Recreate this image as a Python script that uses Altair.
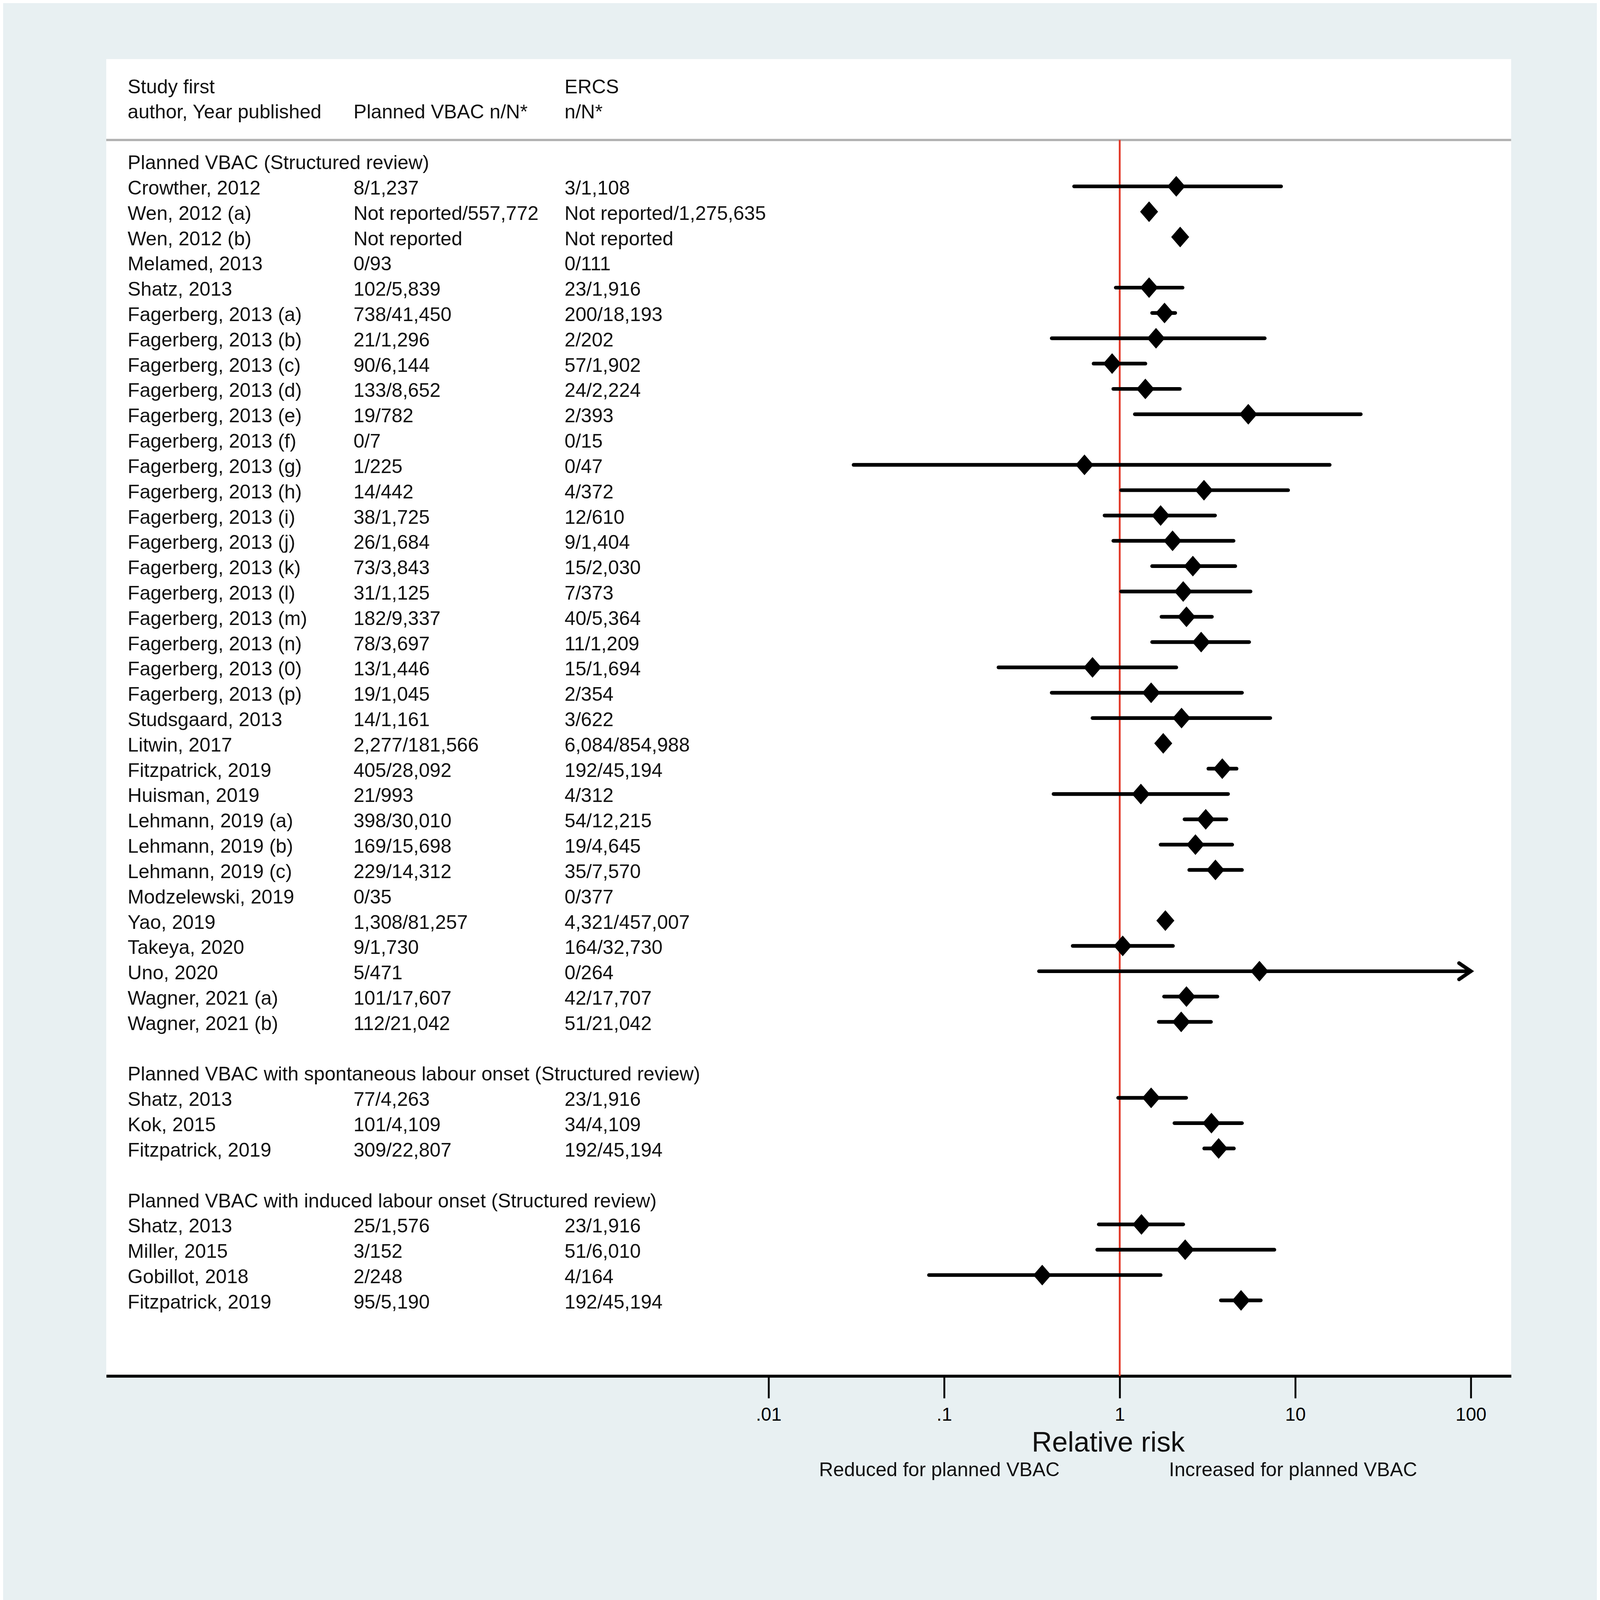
import altair as alt
import pandas as pd

# ---------------- data ----------------
HEADER_1 = ["Study first", "", "ERCS"]
HEADER_2 = ["author, Year published", "Planned VBAC n/N*", "n/N*"]

GROUP_TITLES = [
    "Planned VBAC (Structured review)",
    "Planned VBAC with spontaneous labour onset (Structured review)",
    "Planned VBAC with induced labour onset (Structured review)",
]

GROUP = [0] * 34 + [1] * 3 + [2] * 4

STUDY = [
    "Crowther, 2012", "Wen, 2012 (a)", "Wen, 2012 (b)", "Melamed, 2013", "Shatz, 2013",
    "Fagerberg, 2013 (a)", "Fagerberg, 2013 (b)", "Fagerberg, 2013 (c)", "Fagerberg, 2013 (d)",
    "Fagerberg, 2013 (e)", "Fagerberg, 2013 (f)", "Fagerberg, 2013 (g)", "Fagerberg, 2013 (h)",
    "Fagerberg, 2013 (i)", "Fagerberg, 2013 (j)", "Fagerberg, 2013 (k)", "Fagerberg, 2013 (l)",
    "Fagerberg, 2013 (m)", "Fagerberg, 2013 (n)", "Fagerberg, 2013 (0)", "Fagerberg, 2013 (p)",
    "Studsgaard,  2013", "Litwin, 2017", "Fitzpatrick, 2019", "Huisman, 2019",
    "Lehmann, 2019 (a)", "Lehmann, 2019 (b)", "Lehmann, 2019 (c)", "Modzelewski, 2019",
    "Yao, 2019", "Takeya, 2020", "Uno, 2020", "Wagner, 2021 (a)", "Wagner, 2021 (b)",
    "Shatz, 2013", "Kok, 2015", "Fitzpatrick, 2019",
    "Shatz, 2013", "Miller, 2015", "Gobillot, 2018", "Fitzpatrick, 2019",
]

VBAC = [
    "8/1,237", "Not reported/557,772", "Not reported", "0/93", "102/5,839",
    "738/41,450", "21/1,296", "90/6,144", "133/8,652",
    "19/782", "0/7", "1/225", "14/442",
    "38/1,725", "26/1,684", "73/3,843", "31/1,125",
    "182/9,337", "78/3,697", "13/1,446", "19/1,045",
    "14/1,161", "2,277/181,566", "405/28,092", "21/993",
    "398/30,010", "169/15,698", "229/14,312", "0/35",
    "1,308/81,257", "9/1,730", "5/471", "101/17,607", "112/21,042",
    "77/4,263", "101/4,109", "309/22,807",
    "25/1,576", "3/152", "2/248", "95/5,190",
]

ERCS = [
    "3/1,108", "Not reported/1,275,635", "Not reported", "0/111", "23/1,916",
    "200/18,193", "2/202", "57/1,902", "24/2,224",
    "2/393", "0/15", "0/47", "4/372",
    "12/610", "9/1,404", "15/2,030", "7/373",
    "40/5,364", "11/1,209", "15/1,694", "2/354",
    "3/622", "6,084/854,988", "192/45,194", "4/312",
    "54/12,215", "19/4,645", "35/7,570", "0/377",
    "4,321/457,007", "164/32,730", "0/264", "42/17,707", "51/21,042",
    "23/1,916", "34/4,109", "192/45,194",
    "23/1,916", "51/6,010", "4/164", "192/45,194",
]

RR = [
    2.10, 1.47, 2.21, None, 1.47,
    1.80, 1.61, 0.905, 1.40,
    5.40, None, 0.63, 3.02,
    1.71, 2.00, 2.61, 2.30,
    2.40, 2.91, 0.70, 1.51,
    2.25, 1.77, 3.84, 1.32,
    3.09, 2.70, 3.51, None,
    1.82, 1.04, 6.25, 2.40, 2.24,
    1.51, 3.33, 3.66,
    1.33, 2.36, 0.362, 4.91,
]

LO = [
    0.55, None, None, None, 0.95,
    1.53, 0.41, 0.71, 0.92,
    1.22, None, 0.0305, 1.02,
    0.82, 0.92, 1.53, 1.02,
    1.73, 1.53, 0.204, 0.41,
    0.70, None, 3.20, 0.42,
    2.34, 1.71, 2.49, None,
    None, 0.54, 0.347, 1.79, 1.67,
    0.98, 2.05, 3.03,
    0.76, 0.745, 0.082, 3.77,
]

HI = [
    8.3, None, None, None, 2.28,
    2.07, 6.7, 1.40, 2.20,
    23.6, None, 15.7, 9.1,
    3.49, 4.45, 4.55, 5.56,
    3.35, 5.46, 2.10, 4.97,
    7.2, None, 4.63, 4.14,
    4.05, 4.37, 4.97, None,
    None, 2.01, 100.0, 3.60, 3.31,
    2.39, 4.97, 4.47,
    2.30, 7.6, 1.71, 6.36,
]

NULL_VALUE = [1]
AXIS_MAX = 100
TICKS = [0.01, 0.1, 1, 10, 100]
TICK_LABELS = [".01", ".1", "1", "10", "100"]
AXIS_TITLE = "Relative risk"
LEFT_NOTE = "Reduced for planned VBAC"
RIGHT_NOTE = "Increased for planned VBAC"

# ---------------- table ----------------
rows = [
    dict(row=-3, study=HEADER_1[0], vbac=HEADER_1[1], ercs=HEADER_1[2], rr=None, lo=None, hi=None),
    dict(row=-2, study=HEADER_2[0], vbac=HEADER_2[1], ercs=HEADER_2[2], rr=None, lo=None, hi=None),
]
r = 0
for g, title in enumerate(GROUP_TITLES):
    if g > 0:
        r += 1
    rows.append(dict(row=r, study=title, vbac="", ercs="", rr=None, lo=None, hi=None))
    r += 1
    for k in range(len(STUDY)):
        if GROUP[k] == g:
            rows.append(dict(row=r, study=STUDY[k], vbac=VBAC[k], ercs=ERCS[k],
                             rr=RR[k], lo=LO[k], hi=HI[k]))
            r += 1
df = pd.DataFrame(rows)
pts = df.dropna(subset=["rr"])
ci = df.dropna(subset=["lo", "hi"])
arrow = ci[ci["hi"] >= AXIS_MAX]

# ---------------- layout ----------------
W, H = 3801, 3563
FONT = "Liberation Sans"
PX_ONE = 3029 - 287
DEC = 475.0
xmin = 10 ** ((0 - PX_ONE) / DEC)
xmax = 10 ** ((W - PX_ONE) / DEC)
ROW0, STEP = 276.0, 68.5
ymin = -ROW0 / STEP
ymax = (H - ROW0) / STEP

label_expr = ""
for v, l in zip(TICKS, TICK_LABELS):
    label_expr += f"abs(datum.value - {v}) < {v * 0.01} ? '{l}' : "
label_expr += "''"

xscale = alt.Scale(type="log", domain=[xmin, xmax], nice=False)
xaxis = alt.Axis(values=TICKS, labelExpr=label_expr, title=None, grid=False,
                 domainColor="black", domainWidth=8, tickColor="black", tickWidth=5,
                 tickSize=60, labelFont=FONT, labelFontSize=50, labelColor="black",
                 labelBaseline="alphabetic", labelPadding=61, labelFlush=False)
yscale = alt.Scale(domain=[ymin, ymax], reverse=True, nice=False, zero=False)
yenc = alt.Y("row:Q", scale=yscale, axis=None)


def xenc(field):
    return alt.X(f"{field}:Q", scale=xscale, axis=xaxis)


one = pd.DataFrame({"ref": NULL_VALUE})

sep = alt.Chart(one).mark_rule(color="#b0b0b0", strokeWidth=6).encode(
    x=alt.value(0), x2=alt.value(W), y=alt.value(219))

red = alt.Chart(one).mark_rule(color="#e23a2a", strokeWidth=5).encode(
    x=xenc("ref"), y=alt.value(219), y2=alt.value(H))

ci_rules = alt.Chart(ci).mark_rule(color="black", strokeWidth=10, strokeCap="round").encode(
    x=xenc("lo"), x2="hi:Q", y=yenc)

diamonds = alt.Chart(pts).mark_point(
    shape="M0,-1L0.87,0L0,1L-0.87,0Z", filled=True, size=3136, color="black", opacity=1
).encode(x=xenc("rr"), y=yenc)

arrows = alt.Chart(arrow).mark_point(
    shape="M-1.45,-1L0,0L-1.45,1", filled=False, size=1936, stroke="black",
    strokeWidth=10, opacity=1, strokeCap="round", strokeJoin="miter"
).encode(x=xenc("hi"), y=yenc)


def col(field, xpx):
    return alt.Chart(df).mark_text(align="left", baseline="middle", font=FONT,
                                   fontSize=53, color="#111111", dy=6).encode(
        text=f"{field}:N", x=alt.value(xpx), y=yenc)


t1 = col("study", 58)
t2 = col("vbac", 669)
t3 = col("ercs", 1240)


def note(text, xpx, ypx, size):
    return alt.Chart(pd.DataFrame({"t": [text]})).mark_text(
        align="center", baseline="alphabetic", font=FONT, fontSize=size, color="#111111"
    ).encode(text="t:N", x=alt.value(xpx), y=alt.value(ypx))


n1 = note(AXIS_TITLE, 2711, 3768, 76)
n2 = note(LEFT_NOTE, 2254, 3834, 53)
n3 = note(RIGHT_NOTE, 3211, 3834, 53)

chart = alt.layer(sep, red, ci_rules, diamonds, arrows, t1, t2, t3, n1, n2, n3).properties(
    width=W, height=H,
    padding={"left": 279, "top": 30, "right": 232, "bottom": 673},
    autosize=alt.AutoSizeParams(type="none"),
    background="#e8f0f2",
).configure_view(fill="white", strokeWidth=0)

chart.save("out.html", embed_options={"renderer": "svg", "actions": False})
